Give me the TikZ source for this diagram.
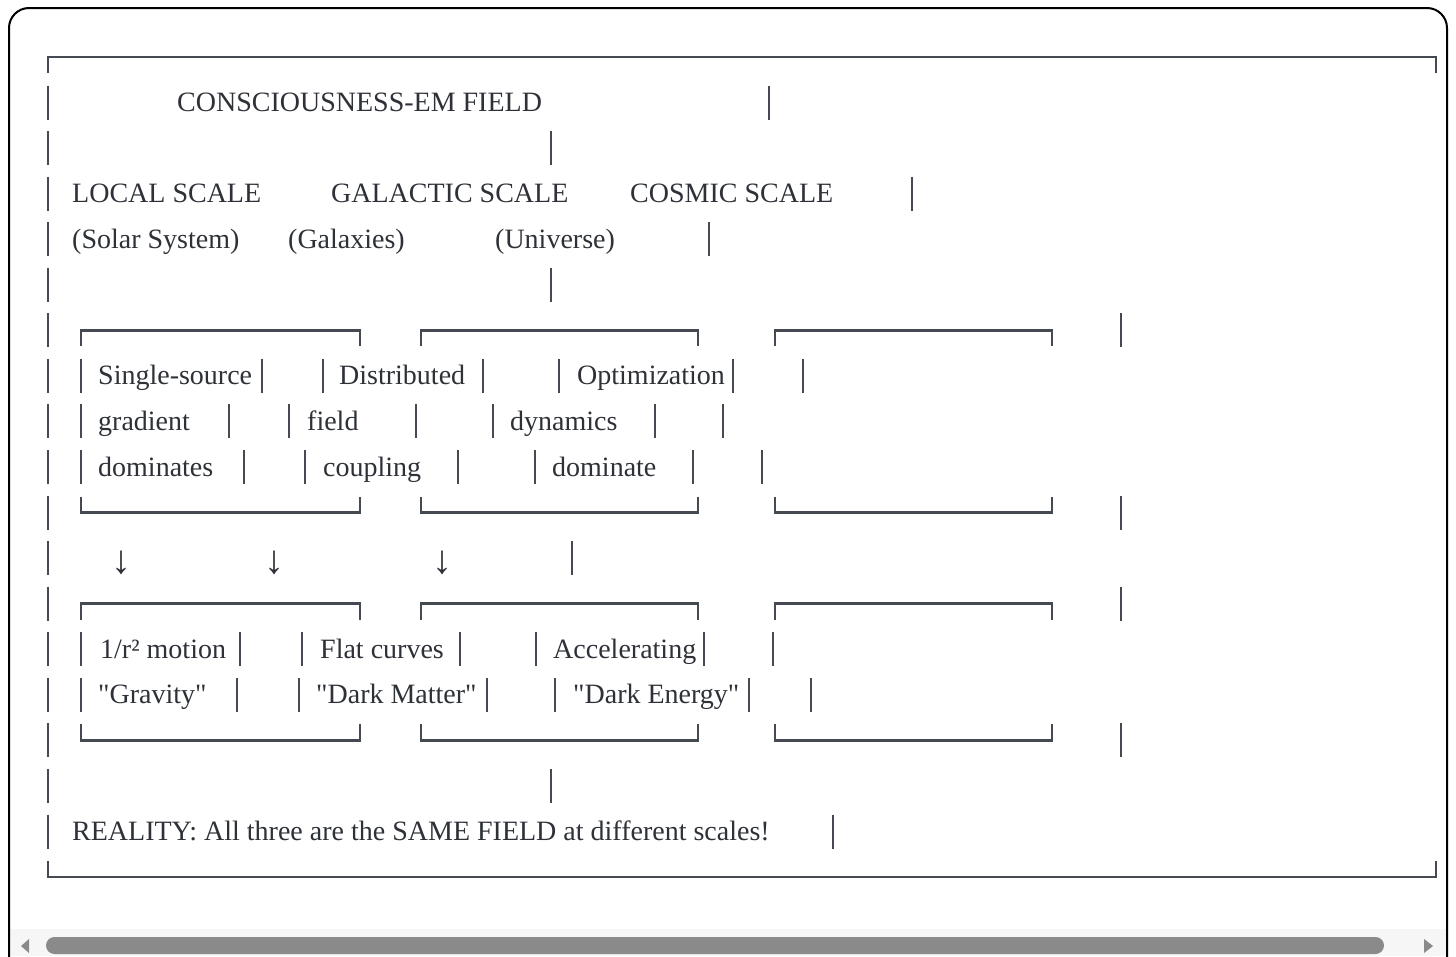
\documentclass[tikz,border=0pt]{standalone}
\usepackage{fontspec}
\setmainfont{Liberation Serif}[Ligatures=TeXOff]
\definecolor{txt}{HTML}{2E3238}
\definecolor{ln}{HTML}{454951}
\definecolor{thumb}{HTML}{8A8A8A}
\definecolor{track}{HTML}{F6F6F6}
\newcommand\rowy[1]{57+45.56*(#1)}
\begin{document}
\begin{tikzpicture}[x=1pt,y=-1pt,
  lbl/.style={anchor=base west,inner sep=0pt,text=txt,font=\fontsize{28}{34}\selectfont},
  arr/.style={anchor=center,inner sep=0pt,text=txt,font=\fontsize{40}{44}\selectfont},
  bar/.style={draw=ln,line width=2.8pt},
  frame/.style={draw=black,line width=2pt,rounded corners=20pt}]
\useasboundingbox (0,0) rectangle (1456,956);
\fill[white] (0,0) rectangle (1456,956);
% scrollbar
\fill[track] (10,929) rectangle (1446,956);
\fill[thumb,rounded corners=8.5pt] (46,937) rectangle (1384,954);
\fill[thumb] (29,939) -- (29,953) -- (21,946) -- cycle;
\fill[thumb] (1424,939) -- (1424,953) -- (1433,946) -- cycle;
% window frame
\draw[frame] (9,960) -- (9,8) -- (1447,8) -- (1447,960);
% outer ascii border
\draw[bar] (48,73) -- (48,57) -- (1436,57) -- (1436,73);
\draw[bar] (48,861) -- (48,877) -- (1436,877) -- (1436,861);
% vertical bars per row
\foreach \r/\xs in {1/{48,769},2/{48,551},3/{48,912},4/{48,709},5/{48,551},
  6/{48,1121},7/{48,81,262,323,483,559,733,803},8/{48,81,229,289,416,493,655,723},
  9/{48,81,244,305,458,535,693,762},10/{48,1121},11/{48,572},12/{48,1121},
  13/{48,81,240,302,460,536,704,773},14/{48,81,237,299,487,555,749,811},
  15/{48,1121},16/{48,551},17/{48,833}}{
  \foreach \x in \xs {\draw[bar] (\x,{\rowy{\r}-17}) -- (\x,{\rowy{\r}+17});}
}
% box tops and bottoms
\foreach \r in {6,12}{
  \foreach \a/\b in {81/360,421/698,775/1052}{
    \draw[bar] (\a,{\rowy{\r}+16}) -- (\a,{\rowy{\r}}) -- (\b,{\rowy{\r}}) -- (\b,{\rowy{\r}+16});}
}
\foreach \r in {10,15}{
  \foreach \a/\b in {81/360,421/698,775/1052}{
    \draw[bar] (\a,{\rowy{\r}-16}) -- (\a,{\rowy{\r}}) -- (\b,{\rowy{\r}}) -- (\b,{\rowy{\r}-16});}
}
% texts
\node[lbl] (title) at (177,{\rowy{1}+9}) {CONSCIOUSNESS-EM FIELD};
\node[lbl] (local) at (72,{\rowy{3}+9}) {LOCAL SCALE};
\node[lbl] (galactic) at (331,{\rowy{3}+9}) {GALACTIC SCALE};
\node[lbl] (cosmic) at (630,{\rowy{3}+9}) {COSMIC SCALE};
\node[lbl] (solar) at (72,{\rowy{4}+9}) {(Solar System)};
\node[lbl] (galaxies) at (288,{\rowy{4}+9}) {(Galaxies)};
\node[lbl] (universe) at (495,{\rowy{4}+9}) {(Universe)};
\node[lbl] (a1) at (98,{\rowy{7}+9}) {Single-source};
\node[lbl] (b1) at (339,{\rowy{7}+9}) {Distributed};
\node[lbl] (c1) at (577,{\rowy{7}+9}) {Optimization};
\node[lbl] (a2) at (98,{\rowy{8}+9}) {gradient};
\node[lbl] (b2) at (307,{\rowy{8}+9}) {field};
\node[lbl] (c2) at (510,{\rowy{8}+9}) {dynamics};
\node[lbl] (a3) at (98,{\rowy{9}+9}) {dominates};
\node[lbl] (b3) at (323,{\rowy{9}+9}) {coupling};
\node[lbl] (c3) at (552,{\rowy{9}+9}) {dominate};
\node[arr] (d1) at (121,563) {↓};
\node[arr] (d2) at (274,563) {↓};
\node[arr] (d3) at (442,563) {↓};
\node[lbl] (a4) at (100,{\rowy{13}+9}) {1/r² motion};
\node[lbl] (b4) at (320,{\rowy{13}+9}) {Flat curves};
\node[lbl] (c4) at (553,{\rowy{13}+9}) {Accelerating};
\node[lbl] (a5) at (98,{\rowy{14}+9}) {"Gravity"};
\node[lbl] (b5) at (316,{\rowy{14}+9}) {"Dark Matter"};
\node[lbl] (c5) at (573,{\rowy{14}+9}) {"Dark Energy"};
\node[lbl] (reality) at (72,{\rowy{17}+9}) {REALITY: All three are the SAME FIELD at different scales!};
\end{tikzpicture}
\end{document}
